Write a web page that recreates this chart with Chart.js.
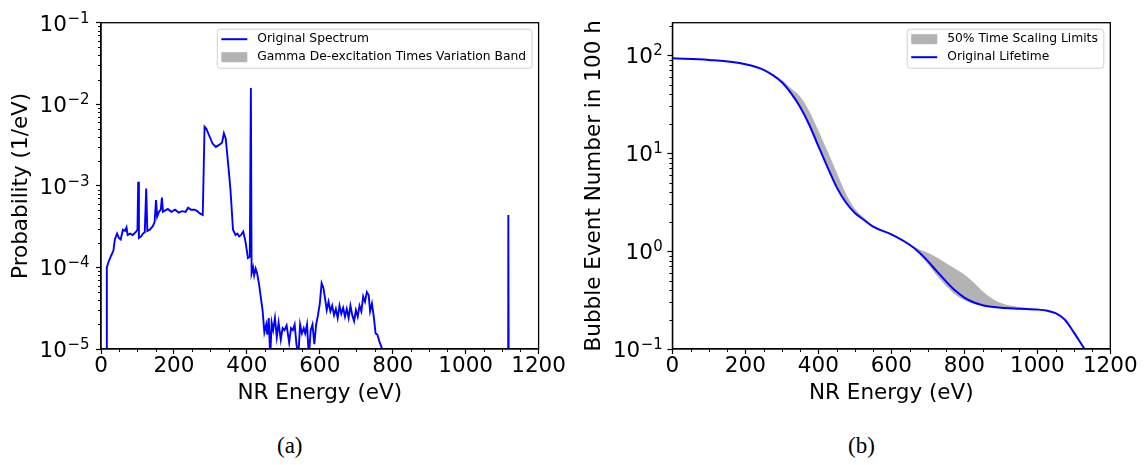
<!DOCTYPE html>
<html>
<head>
<meta charset="utf-8">
<script src="https://cdn.jsdelivr.net/npm/chart.js@4/dist/chart.umd.min.js"></script>
<style>
  body { margin: 0; background: #fff; width: 1146px; height: 465px; overflow: hidden; position: relative; }
  canvas { position: absolute; top: 0; }
  #chartA { left: 0; }
  #chartB { left: 573px; }
  .cap { position: absolute; top: 433px; font-family: "Liberation Serif", serif; font-size: 23px; color: #000; }
</style>
</head>
<body>
<canvas id="chartA" width="573" height="420"></canvas>
<canvas id="chartB" width="573" height="420"></canvas>
<div class="cap" style="left:277px">(a)</div>
<div class="cap" style="left:848px">(b)</div>
<script>
// (a) NR energy spectrum, energies in eV and probability in 1/eV
const energyA = [15, 16, 21, 28, 34, 38, 44, 49, 54, 60, 66, 70, 73, 80, 87, 95, 100, 102, 104, 110,
  115, 120, 124, 127, 134, 142, 147, 151, 154, 159, 164, 167, 170, 183, 193, 203, 213, 222, 232, 239,
  247, 257, 264, 271, 279, 284, 289, 296, 306, 315, 325, 332, 337, 342, 350, 355, 362, 369, 374, 379,
  384, 390, 396, 403, 408, 411, 413, 417, 420, 424, 428, 433, 438, 443, 448, 453, 456, 460, 464, 468,
  472, 477, 482, 487, 493, 498, 503, 509, 516, 521, 526, 531, 536, 541, 546, 551, 556, 560, 565, 570,
  575, 580, 585, 590, 595, 600, 605, 610, 615, 619, 624, 629, 634, 639, 644, 649, 654, 659, 664, 669,
  674, 679, 684, 689, 694, 699, 704, 709, 714, 719, 724, 729, 734, 738, 743, 748, 753, 758, 763, 771,
  776, 1116, 1117, 1118.5, 1119.5];
const probA = [1e-8, 1.0e-4, 1.18e-4, 1.4e-4, 1.6e-4, 2.2e-4, 2.6e-4, 2.3e-4, 2.2e-4, 2.9e-4, 2.8e-4, 3.1e-4, 2.5e-4, 2.6e-4, 2.5e-4, 2.7e-4, 2.9e-4, 1.12e-3, 2.3e-4, 2.4e-4,
  2.6e-4, 2.7e-4, 9.3e-4, 2.8e-4, 2.9e-4, 3.2e-4, 3.6e-4, 6.7e-4, 4.2e-4, 4.8e-4, 5.1e-4, 7.2e-4, 4.8e-4, 5.2e-4, 4.8e-4, 5.1e-4, 4.7e-4, 4.9e-4, 4.8e-4, 5.4e-4,
  5.1e-4, 5.1e-4, 4.9e-4, 4.6e-4, 4.4e-4, 5.3e-3, 5.0e-3, 4.2e-3, 3.3e-3, 3.0e-3, 3.2e-3, 3.4e-3, 4.4e-3, 3.8e-3, 1.6e-3, 9.0e-4, 2.9e-4, 2.5e-4, 2.6e-4, 2.4e-4,
  2.5e-4, 2.75e-4, 2.1e-4, 1.3e-4, 1.35e-4, 1.58e-2, 8.5e-5, 1.0e-4, 8.0e-5, 9.7e-5, 8.5e-5, 6.4e-5, 4.4e-5, 3.0e-5, 1.6e-5, 2.0e-5, 1.5e-5, 2.4e-5, 8e-6, 2.1e-5,
  1.7e-5, 2.4e-5, 1.4e-5, 2.1e-5, 1.3e-5, 1.8e-5, 1.7e-5, 1.95e-5, 1.2e-5, 1.8e-5, 1.7e-5, 2.0e-5, 1.15e-5, 8e-6, 2.0e-5, 1.55e-5, 1.8e-5, 1.55e-5, 2.0e-5, 8e-6,
  1.7e-5, 2.0e-5, 1.15e-5, 2.0e-5, 2.6e-5, 3.6e-5, 6.4e-5, 5.6e-5, 4.0e-5, 3.0e-5, 3.8e-5, 2.9e-5, 3.4e-5, 2.6e-5, 3.1e-5, 2.4e-5, 3.4e-5, 2.7e-5, 3.2e-5, 2.5e-5,
  3.1e-5, 2.4e-5, 3.4e-5, 2.6e-5, 2.2e-5, 3.0e-5, 2.5e-5, 3.4e-5, 2.9e-5, 4.4e-5, 3.8e-5, 5.0e-5, 4.6e-5, 2.9e-5, 3.6e-5, 2.5e-5, 1.55e-5, 1.5e-5, 1.25e-5, 1.0e-5,
  1e-8, 1e-8, 4.4e-4, 4.4e-4, 1e-8];

// (b) bubble events in 100 h vs threshold energy
const energyB = [0, 100, 200, 250, 300, 325, 350, 375, 400, 425, 450, 475, 500, 525, 550, 600, 650, 675,
  700, 725, 750, 775, 800, 825, 850, 875, 900, 950, 1000, 1025, 1050, 1075, 1100, 1125, 1140];
const lifetimeB = [93, 89.5, 81, 71, 53, 41, 29.6, 19.5, 11.8, 7.2, 4.5, 3.15, 2.45, 2.08, 1.78, 1.48, 1.16, 0.98,
  0.79, 0.62, 0.49, 0.395, 0.335, 0.3, 0.28, 0.27, 0.264, 0.258, 0.253, 0.247, 0.232, 0.2, 0.148, 0.106, 0.088];
const bandHighB = [93, 89.5, 81, 71, 56, 46, 38, 27, 17, 10.5, 6.4, 3.9, 2.7, 2.2, 1.82, 1.5, 1.18, 1.05,
  0.96, 0.86, 0.75, 0.66, 0.575, 0.48, 0.39, 0.33, 0.295, 0.268, 0.256, 0.247, 0.232, 0.2, 0.148, 0.106, 0.088];
const bandLowB = [93, 89.5, 81, 71, 53, 41, 29.6, 19.5, 11.8, 7.2, 4.5, 3.15, 2.45, 2.08, 1.78, 1.47, 1.15, 0.95,
  0.74, 0.56, 0.44, 0.36, 0.315, 0.29, 0.275, 0.268, 0.263, 0.258, 0.253, 0.247, 0.232, 0.2, 0.148, 0.106, 0.088];

const xTicks = [0, 200, 400, 600, 800, 1000, 1200];
const yTicksA = [1e-5, 1e-4, 1e-3, 1e-2, 1e-1];
const yTicksB = [1e-1, 1, 10, 100];

Chart.defaults.font.family = '"DejaVu Sans", sans-serif';
Chart.defaults.color = '#000';
Chart.defaults.animation = false;

const FONT = 21.5;

// minor ticks, full frame and 10^n tick labels like matplotlib
const frameAndMinor = {
  id: 'frameAndMinor',
  afterDatasetsDraw(chart) {
    const {ctx, chartArea: a, scales: {x, y}} = chart;
    ctx.save();
    ctx.strokeStyle = '#000';
    ctx.lineWidth = 1;
    ctx.beginPath();
    for (let v = 50; v < x.max; v += 50) {
      if (v % 200 === 0) continue;
      const px = Math.round(x.getPixelForValue(v)) + 0.5;
      ctx.moveTo(px, a.bottom);
      ctx.lineTo(px, a.bottom + 3);
    }
    const d0 = Math.floor(Math.log10(y.min)), d1 = Math.ceil(Math.log10(y.max));
    for (let d = d0; d <= d1; d++) {
      for (let k = 2; k <= 9; k++) {
        const v = k * Math.pow(10, d);
        if (v <= y.min || v >= y.max) continue;
        const py = Math.round(y.getPixelForValue(v)) + 0.5;
        ctx.moveTo(a.left, py);
        ctx.lineTo(a.left - 3, py);
      }
    }
    ctx.stroke();
    ctx.lineWidth = 1.3;
    ctx.strokeRect(a.left, a.top, a.right - a.left, a.bottom - a.top);
    ctx.restore();
  },
  afterDraw(chart, args, opts) {
    const {ctx, chartArea: a, scales: {y}} = chart;
    const main = FONT + 'px "DejaVu Sans"', sup = '15px "DejaVu Sans"';
    ctx.save();
    ctx.fillStyle = '#000';
    ctx.textAlign = 'left';
    ctx.textBaseline = 'alphabetic';
    for (const t of y.ticks) {
      const py = y.getPixelForValue(t.value);
      const exp = String(Math.round(Math.log10(t.value))).replace('-', '\u2212');
      ctx.font = main;
      const w1 = ctx.measureText('10').width;
      ctx.font = sup;
      const w2 = ctx.measureText(exp).width;
      const x0 = a.left - opts.gap - w1 - w2;
      const base = py + 7.8;
      ctx.font = main;
      ctx.fillText('10', x0, base);
      ctx.font = sup;
      ctx.fillText(exp, x0 + w1 + 0.5, base - 8);
    }
    ctx.restore();
  }
};

// legend box in the upper right corner of the plot
const insetLegend = {
  id: 'insetLegend',
  afterDraw(chart, args, opts) {
    const {ctx, chartArea: a} = chart;
    ctx.save();
    ctx.font = '12.3px "DejaVu Sans"';
    const textW = Math.max(...opts.items.map(it => ctx.measureText(it.text).width));
    const w = 40 + textW + 6, h = 39;
    const x0 = a.right - 6.5 - w, y0 = a.top + 6.5;
    ctx.beginPath();
    ctx.roundRect(x0, y0, w, h, 3);
    ctx.fillStyle = 'rgba(255,255,255,0.8)';
    ctx.fill();
    ctx.strokeStyle = '#d0d0d0';
    ctx.lineWidth = 1;
    ctx.stroke();
    opts.items.forEach((it, i) => {
      const cy = y0 + 10 + i * 18;
      if (it.kind === 'line') {
        ctx.strokeStyle = it.color;
        ctx.lineWidth = 2;
        ctx.beginPath();
        ctx.moveTo(x0 + 4, cy);
        ctx.lineTo(x0 + 30, cy);
        ctx.stroke();
      } else {
        ctx.fillStyle = it.color;
        ctx.fillRect(x0 + 4, cy - 5, 26, 10);
      }
      ctx.fillStyle = '#000';
      ctx.textBaseline = 'middle';
      ctx.fillText(it.text, x0 + 40, cy);
    });
    ctx.restore();
  }
};

function xScale() {
  return {
    type: 'linear', min: 0, max: 1200,
    afterBuildTicks: s => { s.ticks = xTicks.map(v => ({value: v})); },
    afterFit: s => { s.height = 71; },
    ticks: {font: {size: FONT}, padding: 0, maxRotation: 0, callback: v => String(v)},
    grid: {drawOnChartArea: false, tickLength: 5, tickColor: '#000', tickWidth: 1.2},
    border: {color: '#000', width: 1.3},
    title: {display: true, text: 'NR Energy (eV)', font: {size: FONT}, padding: {top: 0, bottom: 14}}
  };
}
function yScale(min, max, ticks, title, width) {
  return {
    type: 'logarithmic', min: min, max: max,
    afterBuildTicks: s => { s.ticks = ticks.map(v => ({value: v})); },
    afterFit: s => { s.width = width; },
    ticks: {display: false},
    grid: {drawOnChartArea: false, tickLength: 5, tickColor: '#000', tickWidth: 1.2},
    border: {color: '#000', width: 1.3},
    title: {display: true, text: title, font: {size: FONT}, padding: {top: 8.5, bottom: 0}}
  };
}

new Chart(document.getElementById('chartA'), {
  type: 'line',
  data: {
    datasets: [{
      label: 'Original Spectrum',
      data: energyA.map((e, i) => ({x: e, y: probA[i]})),
      borderColor: '#0000ff',
      borderWidth: 1.9,
      pointRadius: 0,
      tension: 0,
      fill: false
    }]
  },
  options: {
    responsive: false,
    layout: {padding: {left: 0, top: 22.7, right: 34.4, bottom: 0}},
    scales: {
      x: xScale(),
      y: yScale(1e-5, 1e-1, yTicksA, 'Probability (1/eV)', 101)
    },
    plugins: {
      legend: {display: false},
      tooltip: {enabled: false},
      frameAndMinor: {gap: 12},
      insetLegend: {items: [
        {kind: 'line', color: '#0000ff', text: 'Original Spectrum'},
        {kind: 'patch', color: 'rgba(128,128,128,0.6)', text: 'Gamma De-excitation Times Variation Band'}
      ]}
    }
  },
  plugins: [frameAndMinor, insetLegend]
});

new Chart(document.getElementById('chartB'), {
  type: 'line',
  data: {
    datasets: [{
      label: 'Original Lifetime',
      data: energyB.map((e, i) => ({x: e, y: lifetimeB[i]})),
      borderColor: '#0000ff',
      borderWidth: 2,
      pointRadius: 0,
      cubicInterpolationMode: 'monotone',
      fill: false,
      order: 0
    }, {
      label: '50% Time Scaling Limits',
      data: energyB.map((e, i) => ({x: e, y: bandHighB[i]})),
      borderWidth: 0,
      borderColor: 'rgba(0,0,0,0)',
      backgroundColor: 'rgba(128,128,128,0.6)',
      pointRadius: 0,
      cubicInterpolationMode: 'monotone',
      fill: '+1',
      order: 1
    }, {
      label: 'low',
      data: energyB.map((e, i) => ({x: e, y: bandLowB[i]})),
      borderWidth: 0,
      borderColor: 'rgba(0,0,0,0)',
      pointRadius: 0,
      cubicInterpolationMode: 'monotone',
      fill: false,
      order: 2
    }]
  },
  options: {
    responsive: false,
    layout: {padding: {left: 0, top: 22.7, right: 35.7, bottom: 0}},
    scales: {
      x: xScale(),
      y: yScale(0.1, 215, yTicksB, 'Bubble Event Number in 100 h', 99.4)
    },
    plugins: {
      legend: {display: false},
      tooltip: {enabled: false},
      frameAndMinor: {gap: 10},
      insetLegend: {items: [
        {kind: 'patch', color: 'rgba(128,128,128,0.6)', text: '50% Time Scaling Limits'},
        {kind: 'line', color: '#0000ff', text: 'Original Lifetime'}
      ]}
    }
  },
  plugins: [frameAndMinor, insetLegend]
});
</script>
</body>
</html>
